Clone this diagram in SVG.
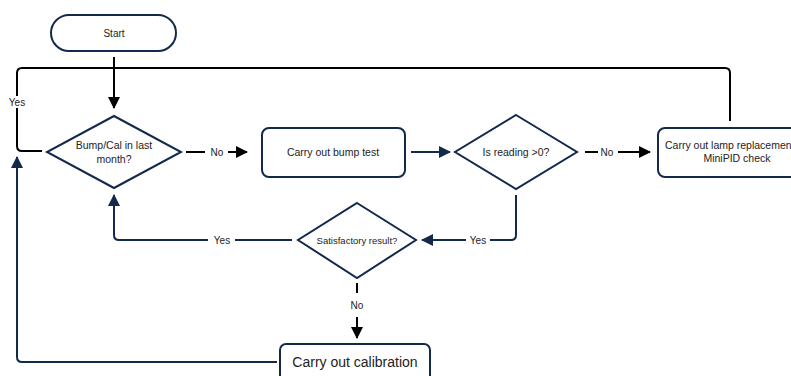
<svg xmlns="http://www.w3.org/2000/svg" width="791" height="376" viewBox="0 0 791 376">
<style>
.node{fill:#fff;stroke:#13294b;stroke-width:2}
.t{font-family:"Liberation Sans",Arial,sans-serif;font-size:10px;fill:#222;text-anchor:middle;dominant-baseline:central}
.lbl{font-family:"Liberation Sans",Arial,sans-serif;font-size:10px;fill:#222;text-anchor:middle;dominant-baseline:central}
.nv{fill:none;stroke:#13294b;stroke-width:2}
.bk{fill:none;stroke:#000;stroke-width:2}
</style>
<defs>
<marker id="an" markerWidth="12" markerHeight="12" refX="11" refY="6" orient="auto" markerUnits="userSpaceOnUse"><path d="M0,0 L12,6 L0,12 Z" fill="#13294b"/></marker>
<marker id="ab" markerWidth="12" markerHeight="12" refX="11" refY="6" orient="auto" markerUnits="userSpaceOnUse"><path d="M0,0 L12,6 L0,12 Z" fill="#000"/></marker>
</defs>
<g id="connectors">
<path class="bk" d="M114,57 V108" marker-end="url(#ab)"/>
<path class="bk" d="M42,151 H22 Q17,151 17,146 V73 Q17,68 22,68 H725 Q730,68 730,73 V121"/>
<rect x="6" y="96" width="22" height="12" fill="#fff"/>
<text class="lbl" x="17" y="102">Yes</text>
<path class="bk" d="M186,152 H205"/>
<text class="lbl" x="217" y="152">No</text>
<path class="bk" d="M228,152 H247" marker-end="url(#ab)"/>
<path class="nv" d="M411,152 H450" marker-end="url(#an)"/>
<path class="bk" d="M585,152 H598"/>
<text class="lbl" x="607" y="152">No</text>
<path class="bk" d="M618,152 H650" marker-end="url(#ab)"/>
<path class="nv" d="M516,195 V235 Q516,240 511,240 H490"/>
<text class="lbl" x="478" y="240">Yes</text>
<path class="nv" d="M466,240 H422" marker-end="url(#an)"/>
<path class="nv" d="M292,240 H235"/>
<text class="lbl" x="222" y="240">Yes</text>
<path class="nv" d="M208,240 H119 Q114,240 114,235 V195" marker-end="url(#an)"/>
<path class="bk" d="M357,283 V293"/>
<text class="lbl" x="357" y="305">No</text>
<path class="bk" d="M357,317 V338" marker-end="url(#ab)"/>
<path class="nv" d="M277,362 H22 Q17,362 17,357 V157" marker-end="url(#an)"/>
</g>
<g id="start">
<rect class="node" x="51" y="15" width="125" height="36" rx="18"/>
<text class="t" x="114" y="33">Start</text>
</g>
<g id="d1">
<polygon class="node" points="114,116 181,152 114,188 47,152"/>
<text class="t" x="114" y="145" style="font-size:10.5px">Bump/Cal in last</text>
<text class="t" x="114" y="159" style="font-size:10.5px">month?</text>
</g>
<g id="bump">
<rect class="node" x="262" y="128" width="143" height="49" rx="7"/>
<text class="t" x="333" y="152" style="font-size:10.5px">Carry out bump test</text>
</g>
<g id="d2">
<polygon class="node" points="516,115 577,152 516,189 455,152"/>
<text class="t" x="516" y="152" style="font-size:10.5px">Is reading &gt;0?</text>
</g>
<g id="lamp">
<rect class="node" x="658" y="128" width="160" height="49" rx="7"/>
<text class="t" x="665" y="145" style="text-anchor:start;font-size:10.5px">Carry out lamp replacement</text>
<text class="t" x="737" y="158" style="font-size:10.5px">MiniPID check</text>
</g>
<g id="d3">
<polygon class="node" points="357,203 416,240 357,278 298,240"/>
<text class="t" x="357" y="240" style="font-size:9.5px">Satisfactory result?</text>
</g>
<g id="cal">
<rect class="node" x="280" y="344" width="150" height="44" rx="6"/>
<text class="t" x="355" y="362" style="font-size:14px">Carry out calibration</text>
</g>
</svg>
